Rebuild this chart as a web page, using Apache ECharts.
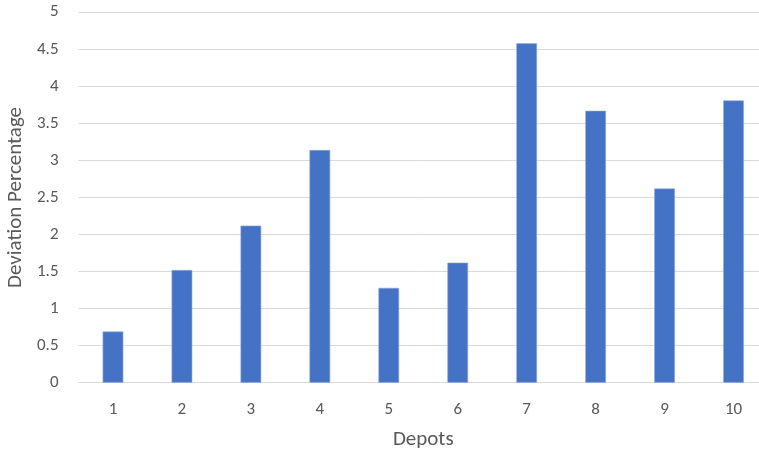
<!DOCTYPE html>
<html>
<head>
<meta charset="utf-8">
<script src="https://cdn.jsdelivr.net/npm/echarts@6/dist/echarts.min.js"></script>
<style>
  html, body { margin: 0; padding: 0; background: #ffffff; }
  #chart { width: 759px; height: 454px; }
</style>
</head>
<body>
<div id="chart"></div>
<script>
// Deviation percentage per depot
const depots = ['1', '2', '3', '4', '5', '6', '7', '8', '9', '10'];
const deviation = [0.69, 1.52, 2.12, 3.14, 1.28, 1.62, 4.58, 3.67, 2.62, 3.81];
const yTicks = { min: 0, max: 5, step: 0.5 };

const FONT = 'Carlito, Lato, "Liberation Sans", sans-serif';
const TEXT = '#595959';

const chart = echarts.init(document.getElementById('chart'), null, { renderer: 'canvas' });
chart.setOption({
  animation: false,
  backgroundColor: '#ffffff',
  grid: {
    left: 78.5, right: -9, top: 12.2, bottom: 71.3,
    containLabel: false,
    outerBoundsMode: 'none'
  },
  xAxis: {
    type: 'category',
    data: depots,
    name: 'Depots',
    nameLocation: 'middle',
    nameGap: 47,
    nameTextStyle: { color: TEXT, fontSize: 21, fontFamily: FONT },
    axisLine: { lineStyle: { color: '#d9d9d9', width: 1 } },
    axisTick: { show: false },
    axisLabel: { color: TEXT, fontSize: 17, fontFamily: FONT, margin: 19 }
  },
  yAxis: {
    type: 'value',
    min: yTicks.min,
    max: yTicks.max,
    interval: yTicks.step,
    name: 'Deviation Percentage',
    nameLocation: 'middle',
    nameGap: 52,
    nameTextStyle: { color: TEXT, fontSize: 21, fontFamily: FONT },
    axisLine: { show: false },
    axisTick: { show: false },
    splitLine: { lineStyle: { color: '#d9d9d9', width: 1 } },
    axisLabel: { color: TEXT, fontSize: 17, fontFamily: FONT, margin: 20 }
  },
  series: [{
    type: 'bar',
    data: deviation,
    barWidth: '30%',
    itemStyle: { color: '#4472c4', borderColor: '#8fa9db', borderWidth: 0.6 }
  }]
});
</script>
</body>
</html>
